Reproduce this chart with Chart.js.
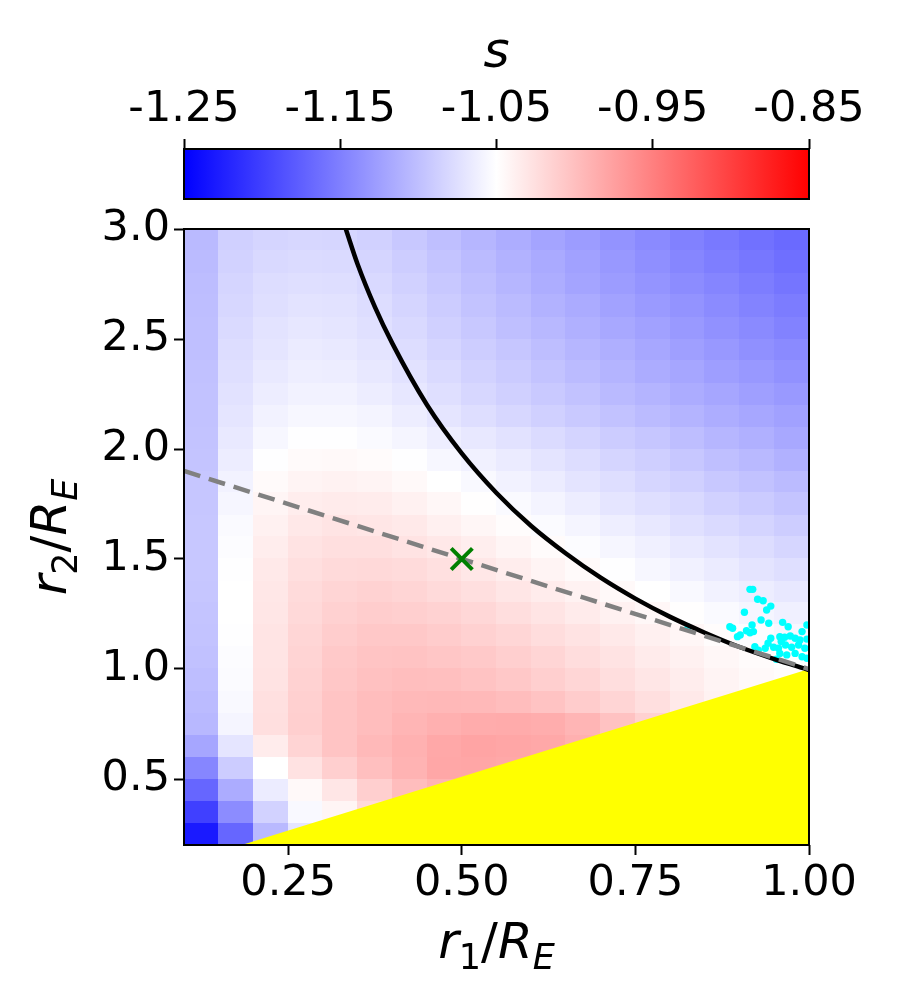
<!DOCTYPE html>
<html>
<head>
<meta charset="utf-8">
<script src="https://cdn.jsdelivr.net/npm/chart.js@4.4.0/dist/chart.umd.min.js"></script>
<style>
  html, body { margin: 0; padding: 0; background: #fff; }
  #wrap { position: relative; width: 900px; height: 1000px; }
  #main { position: absolute; left: 0; top: 180px; }
  #cb { position: absolute; left: 0; top: 0; }
</style>
</head>
<body>
<div id="wrap">
  <canvas id="main" width="900" height="820"></canvas>
  <canvas id="cb" width="900" height="205"></canvas>
</div>
<script>
// colour limits of s (colorbar ends) and tick values
const S_MIN = -1.25;
const S_MAX = -0.85;
const cbTicks = [-1.25, -1.15, -1.05, -0.95, -0.85];
const xTicks = [0.25, 0.5, 0.75, 1.0];
const yTicks = [0.5, 1.0, 1.5, 2.0, 2.5, 3.0];

// heatmap cell centres (r1/RE across, r2/RE from top row down)
const r1Centers = [0.125, 0.175, 0.225, 0.275, 0.325, 0.375, 0.425, 0.475, 0.525,
                   0.575, 0.625, 0.675, 0.725, 0.775, 0.825, 0.875, 0.925, 0.975];
const r2Centers = [2.95, 2.85, 2.75, 2.65, 2.55, 2.45, 2.35, 2.25, 2.15, 2.05,
                   1.95, 1.85, 1.75, 1.65, 1.55, 1.45, 1.35, 1.25, 1.15, 1.05,
                   0.95, 0.85, 0.75, 0.65, 0.55, 0.45, 0.35, 0.25];
// s values, one row per r2Centers entry
const sGrid = [
  [-1.104, -1.087, -1.083, -1.081, -1.082, -1.086, -1.093, -1.100, -1.107, -1.114, -1.121, -1.128, -1.135, -1.142, -1.149, -1.155, -1.161, -1.167],
  [-1.103, -1.085, -1.080, -1.078, -1.079, -1.083, -1.089, -1.096, -1.103, -1.110, -1.117, -1.124, -1.131, -1.138, -1.145, -1.151, -1.157, -1.163],
  [-1.102, -1.083, -1.077, -1.075, -1.076, -1.080, -1.086, -1.093, -1.100, -1.107, -1.114, -1.121, -1.128, -1.134, -1.140, -1.146, -1.152, -1.158],
  [-1.101, -1.081, -1.075, -1.072, -1.073, -1.077, -1.083, -1.090, -1.097, -1.103, -1.110, -1.116, -1.123, -1.129, -1.135, -1.141, -1.147, -1.153],
  [-1.100, -1.079, -1.072, -1.069, -1.070, -1.074, -1.080, -1.087, -1.093, -1.100, -1.106, -1.112, -1.118, -1.124, -1.130, -1.136, -1.142, -1.148],
  [-1.100, -1.077, -1.070, -1.066, -1.067, -1.071, -1.077, -1.083, -1.089, -1.095, -1.101, -1.107, -1.113, -1.119, -1.125, -1.131, -1.137, -1.142],
  [-1.099, -1.075, -1.067, -1.063, -1.064, -1.068, -1.073, -1.079, -1.085, -1.091, -1.097, -1.103, -1.109, -1.115, -1.120, -1.126, -1.131, -1.136],
  [-1.098, -1.073, -1.064, -1.060, -1.060, -1.064, -1.069, -1.075, -1.081, -1.087, -1.092, -1.098, -1.104, -1.109, -1.115, -1.120, -1.125, -1.130],
  [-1.098, -1.070, -1.060, -1.056, -1.056, -1.059, -1.064, -1.070, -1.076, -1.081, -1.087, -1.092, -1.098, -1.103, -1.109, -1.114, -1.119, -1.124],
  [-1.097, -1.067, -1.056, -1.051, -1.051, -1.054, -1.058, -1.063, -1.068, -1.073, -1.078, -1.084, -1.090, -1.095, -1.101, -1.107, -1.112, -1.118],
  [-1.096, -1.064, -1.051, -1.046, -1.045, -1.047, -1.051, -1.056, -1.061, -1.066, -1.071, -1.077, -1.083, -1.088, -1.094, -1.100, -1.105, -1.111],
  [-1.095, -1.060, -1.046, -1.041, -1.040, -1.041, -1.045, -1.050, -1.055, -1.060, -1.065, -1.071, -1.076, -1.082, -1.087, -1.093, -1.098, -1.103],
  [-1.095, -1.057, -1.042, -1.036, -1.034, -1.035, -1.039, -1.044, -1.049, -1.054, -1.059, -1.064, -1.070, -1.075, -1.080, -1.086, -1.091, -1.096],
  [-1.094, -1.054, -1.039, -1.032, -1.029, -1.030, -1.033, -1.038, -1.043, -1.048, -1.053, -1.058, -1.063, -1.068, -1.074, -1.079, -1.084, -1.089],
  [-1.094, -1.052, -1.036, -1.028, -1.025, -1.025, -1.028, -1.032, -1.037, -1.042, -1.047, -1.052, -1.057, -1.062, -1.067, -1.072, -1.077, -1.082],
  [-1.094, -1.051, -1.033, -1.025, -1.021, -1.020, -1.022, -1.026, -1.031, -1.036, -1.041, -1.046, -1.051, -1.056, -1.061, -1.066, -1.071, -1.075],
  [-1.095, -1.050, -1.031, -1.022, -1.017, -1.015, -1.017, -1.021, -1.025, -1.030, -1.035, -1.040, -1.045, -1.050, -1.055, -1.060, -1.064, -1.068],
  [-1.096, -1.050, -1.030, -1.020, -1.014, -1.011, -1.012, -1.015, -1.019, -1.024, -1.029, -1.034, -1.039, -1.044, -1.049, -1.054, -1.058, -1.062],
  [-1.097, -1.051, -1.029, -1.018, -1.011, -1.007, -1.007, -1.010, -1.014, -1.018, -1.023, -1.028, -1.033, -1.038, -1.043, -1.048, -1.052, -1.056],
  [-1.099, -1.052, -1.029, -1.016, -1.008, -1.004, -1.003, -1.005, -1.008, -1.012, -1.017, -1.023, -1.028, -1.034, -1.039, -1.044, -1.047, -1.050],
  [-1.101, -1.053, -1.028, -1.015, -1.006, -1.001, -0.999, -1.000, -1.003, -1.007, -1.012, -1.018, -1.024, -1.030, -1.036, -1.041, -1.045, -1.048],
  [-1.103, -1.055, -1.026, -1.013, -1.004, -0.998, -0.995, -0.994, -0.995, -0.998, -1.003, -1.010, -1.017, -1.025, -1.033, -1.040, -1.044, -1.047],
  [-1.106, -1.058, -1.025, -1.012, -1.004, -0.998, -0.992, -0.988, -0.985, -0.984, -0.986, -0.992, -1.002, -1.014, -1.024, -1.032, -1.038, -1.044],
  [-1.120, -1.070, -1.035, -1.016, -1.004, -0.995, -0.989, -0.982, -0.979, -0.980, -0.982, -0.988, -0.998, -1.010, -1.020, -1.030, -1.036, -1.042],
  [-1.145, -1.090, -1.050, -1.027, -1.012, -1.000, -0.990, -0.981, -0.980, -0.982, -0.985, -0.990, -1.000, -1.010, -1.020, -1.030, -1.036, -1.042],
  [-1.170, -1.115, -1.065, -1.045, -1.030, -1.012, -0.998, -0.990, -0.985, -0.985, -0.988, -0.992, -1.000, -1.010, -1.020, -1.030, -1.036, -1.042],
  [-1.200, -1.140, -1.085, -1.055, -1.042, -1.020, -1.005, -0.995, -0.990, -0.988, -0.990, -0.995, -1.002, -1.010, -1.020, -1.030, -1.036, -1.042],
  [-1.230, -1.170, -1.105, -1.070, -1.050, -1.030, -1.012, -1.000, -0.995, -0.990, -0.992, -0.996, -1.002, -1.010, -1.020, -1.030, -1.036, -1.042]
];

// solid black curve
const curveR1 = [0.333, 0.35, 0.375, 0.4, 0.45, 0.5, 0.55, 0.6, 0.65, 0.7, 0.75, 0.8, 0.85, 0.9, 0.95, 1.0];
const curveR2 = [3.0, 2.84, 2.645, 2.48, 2.2, 1.98, 1.80, 1.65, 1.525, 1.415, 1.32, 1.237, 1.165, 1.10, 1.045, 0.995];

// grey dashed line
const dashR1 = [0.1, 1.0];
const dashR2 = [1.9, 1.0];

// green cross
const markR1 = [0.5];
const markR2 = [1.5];

// yellow excluded region edge (filled down to the axis)
const yellowR1 = [0.183, 1.0];
const yellowR2 = [0.2, 1.0];

// cyan points
const cyanR1 = [0.915, 0.919, 0.926, 0.934, 0.945, 0.939, 0.907, 0.931, 0.942, 0.962, 0.970, 0.997,
                0.886, 0.890, 0.901, 0.910, 0.915, 0.920, 0.918, 0.897, 0.958, 0.965, 0.973, 0.980,
                0.987, 0.997, 0.941, 0.949, 0.956, 0.966, 0.975, 0.985, 0.994, 0.937, 0.958, 0.968,
                0.980, 0.990, 0.997, 0.953, 0.922, 0.927, 0.826, 0.990, 0.960, 0.945];
const cyanR2 = [1.362, 1.362, 1.317, 1.310, 1.286, 1.268, 1.258, 1.223, 1.208, 1.212, 1.192, 1.200,
                1.192, 1.185, 1.155, 1.174, 1.165, 1.170, 1.200, 1.147, 1.147, 1.144, 1.150, 1.140,
                1.132, 1.136, 1.117, 1.099, 1.094, 1.109, 1.099, 1.109, 1.094, 1.094, 1.071, 1.064,
                1.071, 1.056, 1.049, 1.044, 1.101, 1.086, 1.190, 1.170, 1.125, 1.140];

const FONT = '"DejaVu Sans", sans-serif';
const TICK_SIZE = 43;
const TITLE_SIZE = 50;

function bwr(v) {
	let t = (v - S_MIN) / (S_MAX - S_MIN);
	t = Math.max(0, Math.min(1, t));
	let r, g, b;
	if (t < 0.5) {
		r = g = Math.round(510 * t);
		b = 255;
	} else {
		r = 255;
		g = b = Math.round(510 * (1 - t));
	}
	return `rgb(${r},${g},${b})`;
}

const pts = (xs, ys) => xs.map((x, i) => ({ x: x, y: ys[i] }));

// mathtext-like label: italic letters, upright digits, subscripts
function drawMath(ctx, parts, cx, baseY, size, rotate) {
	let total = 0;
	parts.forEach((p) => {
		const s = p.sub ? size * 0.7 : size;
		ctx.font = `${p.it ? "italic " : ""}${s}px ${FONT}`;
		p.w = ctx.measureText(p.t).width;
		total += p.w;
	});
	ctx.save();
	ctx.fillStyle = "#000";
	ctx.textBaseline = "alphabetic";
	ctx.textAlign = "left";
	if (rotate) {
		ctx.translate(baseY, cx);
		ctx.rotate(-Math.PI / 2);
	} else {
		ctx.translate(cx, baseY);
	}
	let x = -total / 2;
	parts.forEach((p) => {
		const s = p.sub ? size * 0.7 : size;
		ctx.font = `${p.it ? "italic " : ""}${s}px ${FONT}`;
		ctx.fillText(p.t, x, p.sub ? size * 0.22 : 0);
		x += p.w;
	});
	ctx.restore();
}

const heatmapPlugin = {
	id: "heatmap",
	beforeDatasetsDraw(chart) {
		const { ctx, chartArea } = chart;
		const xs = chart.scales.x;
		const ys = chart.scales.y;
		const hx = (r1Centers[1] - r1Centers[0]) / 2;
		const hy = Math.abs(r2Centers[0] - r2Centers[1]) / 2;

		ctx.save();
		ctx.beginPath();
		ctx.rect(chartArea.left, chartArea.top, chartArea.width, chartArea.height);
		ctx.clip();
		sGrid.forEach((row, j) => {
			row.forEach((v, i) => {
				const x0 = Math.floor(xs.getPixelForValue(r1Centers[i] - hx));
				const x1 = Math.ceil(xs.getPixelForValue(r1Centers[i] + hx));
				const y0 = Math.floor(ys.getPixelForValue(r2Centers[j] + hy));
				const y1 = Math.ceil(ys.getPixelForValue(r2Centers[j] - hy));
				ctx.fillStyle = bwr(v);
				ctx.fillRect(x0, y0, x1 - x0, y1 - y0);
			});
		});
		ctx.restore();
	},
	afterDraw(chart) {
		const { ctx, chartArea } = chart;
		ctx.save();
		ctx.strokeStyle = "#000";
		ctx.lineWidth = 2;
		ctx.strokeRect(chartArea.left, chartArea.top, chartArea.width, chartArea.height);
		ctx.restore();

		const mid = (chartArea.left + chartArea.right) / 2;
		drawMath(ctx, [
			{ t: "r", it: true }, { t: "1", sub: true }, { t: "/" },
			{ t: "R", it: true }, { t: "E", it: true, sub: true },
		], mid, 778, TITLE_SIZE, false);

		const midY = (chartArea.top + chartArea.bottom) / 2;
		drawMath(ctx, [
			{ t: "r", it: true }, { t: "2", sub: true }, { t: "/" },
			{ t: "R", it: true }, { t: "E", it: true, sub: true },
		], midY, 66, TITLE_SIZE, true);
	},
};

const colorbarPlugin = {
	id: "colorbar",
	beforeDatasetsDraw(chart) {
		const { ctx, chartArea } = chart;
		const xs = chart.scales.x;
		const p0 = xs.getPixelForValue(S_MIN);
		const p1 = xs.getPixelForValue(S_MAX);
		const grad = ctx.createLinearGradient(p0, 0, p1, 0);
		grad.addColorStop(0, bwr(S_MIN));
		grad.addColorStop(0.5, bwr((S_MIN + S_MAX) / 2));
		grad.addColorStop(1, bwr(S_MAX));
		ctx.save();
		ctx.fillStyle = grad;
		ctx.fillRect(chartArea.left, chartArea.top, chartArea.width, chartArea.height);
		ctx.strokeStyle = "#000";
		ctx.lineWidth = 2;
		ctx.strokeRect(chartArea.left, chartArea.top, chartArea.width, chartArea.height);
		ctx.restore();

		drawMath(ctx, [{ t: "s", it: true }], (chartArea.left + chartArea.right) / 2, 67, TITLE_SIZE, false);
	},
};

const tickGrid = {
	display: true,
	drawOnChartArea: false,
	drawTicks: true,
	tickLength: 10,
	tickWidth: 2,
	tickColor: "#000",
};

new Chart(document.getElementById("main"), {
	type: "scatter",
	data: {
		datasets: [
			{
				type: "scatter",
				data: pts(markR1, markR2),
				pointStyle: "crossRot",
				pointRadius: 15,
				borderColor: "#008000",
				borderWidth: 4,
			},
			{
				type: "line",
				data: pts(dashR1, dashR2),
				borderColor: "#808080",
				borderWidth: 4.5,
				borderDash: [17, 9],
				pointRadius: 0,
				fill: false,
			},
			{
				type: "line",
				data: pts(curveR1, curveR2),
				borderColor: "#000",
				borderWidth: 4.5,
				pointRadius: 0,
				cubicInterpolationMode: "monotone",
				fill: false,
			},
			{
				type: "scatter",
				data: pts(cyanR1, cyanR2),
				pointRadius: 3.7,
				backgroundColor: "#00ffff",
				borderWidth: 0,
				clip: 0,
			},
			{
				type: "line",
				data: pts(yellowR1, yellowR2),
				borderWidth: 0,
				pointRadius: 0,
				backgroundColor: "#ffff00",
				fill: "start",
			},
		],
	},
	options: {
		responsive: false,
		animation: false,
		devicePixelRatio: 1,
		events: [],
		layout: { padding: { top: 49, right: 91, left: 0, bottom: 0 } },
		plugins: { legend: { display: false }, tooltip: { enabled: false } },
		scales: {
			x: {
				type: "linear",
				min: 0.1,
				max: 1.0,
				afterBuildTicks: (s) => { s.ticks = xTicks.map((v) => ({ value: v })); },
				afterFit: (s) => { s.height = 155; },
				ticks: {
					callback: (v) => v.toFixed(2),
					font: { family: FONT, size: TICK_SIZE },
					color: "#000",
					padding: 3,
					maxRotation: 0,
					autoSkip: false,
				},
				grid: tickGrid,
				border: { display: false },
			},
			y: {
				type: "linear",
				min: 0.2,
				max: 3.0,
				afterBuildTicks: (s) => { s.ticks = yTicks.map((v) => ({ value: v })); },
				afterFit: (s) => { s.width = 184; },
				ticks: {
					callback: (v) => v.toFixed(1),
					font: { family: FONT, size: TICK_SIZE },
					color: "#000",
					padding: 4,
					autoSkip: false,
				},
				grid: tickGrid,
				border: { display: false },
			},
		},
	},
	plugins: [heatmapPlugin],
});

new Chart(document.getElementById("cb"), {
	type: "scatter",
	data: { datasets: [] },
	options: {
		responsive: false,
		animation: false,
		devicePixelRatio: 1,
		events: [],
		layout: { padding: { top: 0, right: 91, left: 184, bottom: 6 } },
		plugins: { legend: { display: false }, tooltip: { enabled: false } },
		scales: {
			x: {
				type: "linear",
				position: "top",
				min: S_MIN,
				max: S_MAX,
				afterBuildTicks: (s) => { s.ticks = cbTicks.map((v) => ({ value: v })); },
				afterFit: (s) => { s.height = 149; },
				ticks: {
					callback: (v) => v.toFixed(2),
					font: { family: FONT, size: TICK_SIZE },
					color: "#000",
					padding: 3,
					maxRotation: 0,
					autoSkip: false,
				},
				grid: tickGrid,
				border: { display: false },
			},
			y: { display: false, min: 0, max: 1 },
		},
	},
	plugins: [colorbarPlugin],
});
</script>
</body>
</html>
